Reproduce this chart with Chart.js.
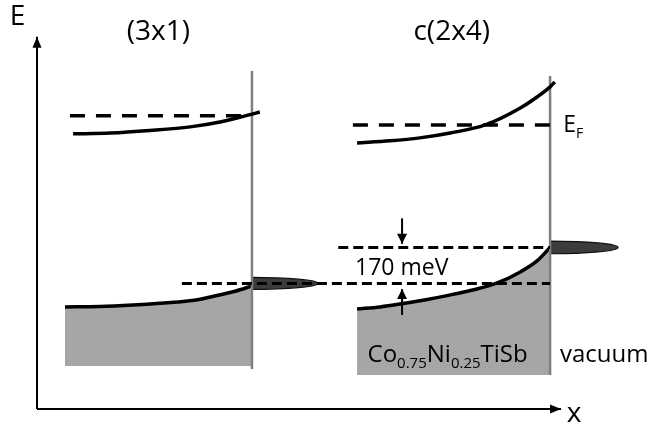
<!DOCTYPE html>
<html>
<head>
<meta charset="utf-8">
<script src="https://cdn.jsdelivr.net/npm/chart.js@4.4.1/dist/chart.umd.min.js"></script>
<style>
  html, body { margin: 0; padding: 0; background: #ffffff; }
  #wrap { width: 647px; height: 427px; }
</style>
</head>
<body>
<div id="wrap"><canvas id="c" width="647" height="427"></canvas></div>
<script>
// Schematic band bending at the Co0.75Ni0.25TiSb surface for the (3x1) and c(2x4)
// reconstructions. Position x in arbitrary units (0..100 along the x arrow),
// energy E in meV above the origin of the axes.

const panelTitles = ['(3x1)', 'c(2x4)'];

// Surface (bulk / vacuum boundary) positions
const surfaceX = [41.1, 98.1];

// Conduction band edge, (3x1)
const cbX3x1 = [6.9, 14.0, 21.6, 29.3, 35.0, 39.8, 42.6];
const cbE3x1 = [1299, 1303, 1315, 1332, 1355, 1384, 1402];
// Valence band edge, (3x1)
const vbX3x1 = [5.35, 12.0, 18.4, 23.5, 27.9, 31.2, 34.4, 37.9, 41.1];
const vbE3x1 = [482, 484, 491, 499, 508, 518, 536, 556, 581];

// Conduction band edge, c(2x4)
const cbXc2x4 = [61.2, 67.5, 73.2, 79.0, 85.7, 92.4, 95.6, 98.1, 99.0];
const cbEc2x4 = [1256, 1266, 1280, 1303, 1341, 1421, 1473, 1521, 1544];
// Valence band edge, c(2x4)
const vbXc2x4 = [61.2, 65.6, 70.0, 75.1, 79.5, 83.7, 88.0, 92.4, 95.6, 98.1];
const vbEc2x4 = [472, 482, 498, 519, 541, 564, 595, 647, 699, 763];

// Fermi levels drawn near the conduction bands
const fermiE = [1384, 1341];
const fermiX = [[6.3, 40.2], [60.4, 98.1]];

// Surface-state levels and the shift between them
const levelShift = 170;               // meV
const levelLow = 593;                 // meV
const levelHigh = levelLow + levelShift;
const levelLowX = [27.7, 98.1];
const levelHighX = [57.6, 98.1];

// Lower edge of the shaded bulk blocks
const bulkBottom = [203, 160];
// Extent of the surface lines
const surfaceLineE = [[189, 1596], [160, 1572]];

// Arrows marking the 170 meV shift
const shiftArrowX = 69.8;
const shiftArrowDown = [900, 780];
const shiftArrowUp = [444, 566];

// Axes
const axisXEnd = 100.2;
const axisEEnd = 1757;

const toPts = (xs, es) => xs.map((x, i) => ({ x: x, y: es[i] }));
const hLine = (xr, e) => [{ x: xr[0], y: e }, { x: xr[1], y: e }];
const vLine = (x, er) => [{ x: x, y: er[0] }, { x: x, y: er[1] }];

const BLACK = '#000000';
const GREY_LINE = '#7f7f7f';
const GREY_FILL = '#a6a6a6';
const FONT = '"Open Sans", "DejaVu Sans", sans-serif';

const base = { showLine: true, pointRadius: 0, pointHoverRadius: 0, fill: false,
  cubicInterpolationMode: 'monotone' };

const datasets = [
  // shaded bulk with valence band edge on top
  Object.assign({}, base, { label: 'VB (3x1)', data: toPts(vbX3x1, vbE3x1),
    borderColor: BLACK, borderWidth: 3.5, backgroundColor: GREY_FILL,
    fill: { value: bulkBottom[0] }, order: 6 }),
  Object.assign({}, base, { label: 'VB c(2x4)', data: toPts(vbXc2x4, vbEc2x4),
    borderColor: BLACK, borderWidth: 3.5, backgroundColor: GREY_FILL,
    fill: { value: bulkBottom[1] }, order: 6 }),
  // surface lines
  Object.assign({}, base, { label: 'surface (3x1)', data: vLine(surfaceX[0], surfaceLineE[0]),
    borderColor: GREY_LINE, borderWidth: 2.5, order: 5 }),
  Object.assign({}, base, { label: 'surface c(2x4)', data: vLine(surfaceX[1], surfaceLineE[1]),
    borderColor: GREY_LINE, borderWidth: 2.5, order: 5 }),
  // conduction band edges
  Object.assign({}, base, { label: 'CB (3x1)', data: toPts(cbX3x1, cbE3x1),
    borderColor: BLACK, borderWidth: 3.5, order: 3 }),
  Object.assign({}, base, { label: 'CB c(2x4)', data: toPts(cbXc2x4, cbEc2x4),
    borderColor: BLACK, borderWidth: 3.5, order: 3 }),
  // Fermi levels
  Object.assign({}, base, { label: 'EF (3x1)', data: hLine(fermiX[0], fermiE[0]),
    borderColor: BLACK, borderWidth: 3.5, borderDash: [15, 11], order: 2 }),
  Object.assign({}, base, { label: 'EF c(2x4)', data: hLine(fermiX[1], fermiE[1]),
    borderColor: BLACK, borderWidth: 3.5, borderDash: [15, 11], order: 2 }),
  // surface-state levels
  Object.assign({}, base, { label: 'level low', data: hLine(levelLowX, levelLow),
    borderColor: BLACK, borderWidth: 3, borderDash: [10, 5], order: 2 }),
  Object.assign({}, base, { label: 'level high', data: hLine(levelHighX, levelHigh),
    borderColor: BLACK, borderWidth: 3, borderDash: [10, 5], order: 2 }),
  // shift arrows
  Object.assign({}, base, { label: 'arrow down', data: vLine(shiftArrowX, shiftArrowDown),
    borderColor: BLACK, borderWidth: 2, order: 1, arrowHead: [10, 5] }),
  Object.assign({}, base, { label: 'arrow up', data: vLine(shiftArrowX, shiftArrowUp),
    borderColor: BLACK, borderWidth: 2, order: 1, arrowHead: [10, 5] }),
  // axes
  Object.assign({}, base, { label: 'E axis', data: [{ x: 0, y: 0 }, { x: 0, y: axisEEnd }],
    borderColor: BLACK, borderWidth: 2, order: 1, arrowHead: [11, 4.5] }),
  Object.assign({}, base, { label: 'x axis', data: [{ x: 0, y: 0 }, { x: axisXEnd, y: 0 }],
    borderColor: BLACK, borderWidth: 2, order: 1, arrowHead: [11, 4.5] })
];

// Text placed in data coordinates
const texts = [
  { parts: [{ t: 'E' }], x: -5.2, y: 1813, size: 28, align: 'left' },
  { parts: [{ t: 'x' }], x: 101.3, y: -61, size: 28, align: 'left' },
  { parts: [{ t: panelTitles[0] }], x: 23.2, y: 1742, size: 28, align: 'center' },
  { parts: [{ t: panelTitles[1] }], x: 79.3, y: 1742, size: 28, align: 'center' },
  { parts: [{ t: 'E' }, { t: 'F', sub: true }], x: 100.6, y: 1308, size: 23, align: 'left' },
  { parts: [{ t: levelShift + ' meV' }], x: 60.8, y: 633, size: 23, align: 'left' },
  { parts: [{ t: 'Co' }, { t: '0.75', sub: true }, { t: 'Ni' }, { t: '0.25', sub: true }, { t: 'TiSb' }],
    x: 63.2, y: 222, size: 24, align: 'left' },
  { parts: [{ t: 'vacuum' }], x: 100.0, y: 222, size: 24, align: 'left' }
];

// Surface-state density lobes sitting on the surface lines (w: a.u., h: meV)
const lobes = [
  { x: surfaceX[0], e: levelLow, w: 12.6, h: 56 },
  { x: surfaceX[1], e: levelHigh, w: 13.0, h: 60 }
];

const decor = {
  id: 'decor',
  beforeDatasetsDraw(chart) {
    const { ctx, scales: { x, y } } = chart;
    ctx.save();
    lobes.forEach(l => {
      const cx = x.getPixelForValue(l.x);
      const cy = y.getPixelForValue(l.e);
      const rx = x.getPixelForValue(l.x + l.w) - cx;
      const ry = Math.abs(y.getPixelForValue(l.e + l.h / 2) - cy);
      ctx.beginPath();
      ctx.ellipse(cx, cy, rx, ry, 0, -Math.PI / 2, Math.PI / 2);
      ctx.closePath();
      ctx.fillStyle = '#3c3c3c';
      ctx.fill();
      ctx.lineWidth = 1.2;
      ctx.strokeStyle = '#111111';
      ctx.stroke();
    });
    ctx.restore();
  },
  afterDatasetsDraw(chart) {
    const { ctx, scales: { x, y } } = chart;
    ctx.save();
    chart.data.datasets.forEach((ds, i) => {
      if (!ds.arrowHead) return;
      const pts = chart.getDatasetMeta(i).data;
      const a = pts[pts.length - 2], b = pts[pts.length - 1];
      const ang = Math.atan2(b.y - a.y, b.x - a.x);
      const L = ds.arrowHead[0], W = ds.arrowHead[1];
      ctx.beginPath();
      ctx.moveTo(b.x, b.y);
      ctx.lineTo(b.x - L * Math.cos(ang) + W * Math.sin(ang), b.y - L * Math.sin(ang) - W * Math.cos(ang));
      ctx.lineTo(b.x - L * Math.cos(ang) - W * Math.sin(ang), b.y - L * Math.sin(ang) + W * Math.cos(ang));
      ctx.closePath();
      ctx.fillStyle = BLACK;
      ctx.fill();
    });

    ctx.fillStyle = BLACK;
    ctx.textBaseline = 'alphabetic';
    texts.forEach(tx => {
      const px = x.getPixelForValue(tx.x);
      const py = y.getPixelForValue(tx.y);
      const subSize = Math.round(tx.size * 0.62);
      const widths = tx.parts.map(p => {
        ctx.font = (p.sub ? subSize : tx.size) + 'px ' + FONT;
        return ctx.measureText(p.t).width;
      });
      const total = widths.reduce((s, w) => s + w, 0);
      let cx = tx.align === 'center' ? px - total / 2 : px;
      ctx.textAlign = 'left';
      tx.parts.forEach((p, k) => {
        ctx.font = (p.sub ? subSize : tx.size) + 'px ' + FONT;
        ctx.fillText(p.t, cx, p.sub ? py + tx.size * 0.26 : py);
        cx += widths[k];
      });
    });
    ctx.restore();
  }
};

new Chart(document.getElementById('c'), {
  type: 'scatter',
  data: { datasets: datasets },
  options: {
    responsive: false,
    animation: false,
    events: [],
    layout: { padding: 0 },
    plugins: { legend: { display: false }, tooltip: { enabled: false }, title: { display: false } },
    scales: {
      x: { type: 'linear', display: false, min: -7.075, max: 116.63 },
      y: { type: 'linear', display: false, min: -85, max: 1931 }
    }
  },
  plugins: [decor]
});
</script>
</body>
</html>
